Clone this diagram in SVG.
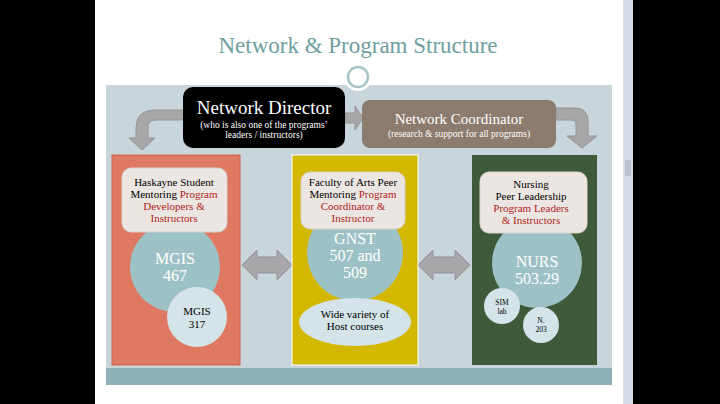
<svg xmlns="http://www.w3.org/2000/svg" width="720" height="404" viewBox="0 0 720 404">
<style>
.s{font-family:"Liberation Serif",serif}
.t{font-size:11px}
.lbl{fill:#ece6e2;stroke:#d8d0cb}
.red{fill:#b01c1c}
.ci{fill:#9dc2c5}
.sm{fill:#d5e4e8}
.arr{fill:#a7a7aa;stroke:#949494}
</style>
<rect width="720" height="404" fill="#000"/>
<rect x="95" y="0" width="528" height="404" fill="#fff"/>
<rect x="623" y="0" width="10" height="404" fill="#d6dde6"/>
<rect x="625" y="160" width="6" height="16" fill="#b9c3cf"/>
<text class="s" x="358" y="53" text-anchor="middle" font-size="23" fill="#6f9ea0">Network  &amp; Program Structure</text>
<rect x="106" y="85" width="506" height="300" fill="#c8d5db"/>
<rect x="106" y="368" width="506" height="17" fill="#8fb1b5"/>
<circle cx="358" cy="77" r="14" fill="#fff"/>
<circle cx="358" cy="77" r="10" fill="none" stroke="#a9c4c6" stroke-width="2.5"/>
<g id="connectors">
<path class="arr" d="M185 120 H155 Q148 120 148 128 V138 H155 L142 150 L129 138 H136 V128 Q136 110 155 110 H185Z"/>
<path class="arr" d="M345 113 H355 V106 L363 118 L355 130 V123 H345Z"/>
<path class="arr" d="M556 108 H575 Q588 108 588 122 V136 H597 L582 148 L567 136 H576 V124 Q576 120 570 120 H556Z"/>
<path class="arr" d="M242 265 L257 250 V257 H277 V250 L292 265 L277 280 V273 H257 V280Z"/>
<path class="arr" d="M418 265 L433 250 V257 H455 V250 L470 265 L455 280 V273 H433 V280Z"/>
</g>
<g id="director">
<rect x="183" y="87" width="162" height="61" rx="10" fill="#000"/>
<text class="s" x="264" y="114" text-anchor="middle" font-size="19" fill="#fff">Network Director</text>
<text class="s" x="264" y="128" text-anchor="middle" font-size="9.5" fill="#fff">(who is also one  of the programs’</text>
<text class="s" x="264" y="138" text-anchor="middle" font-size="9.5" fill="#fff">leaders / instructors)</text>
</g>
<g id="coordinator">
<rect x="362" y="100" width="194" height="48" rx="8" fill="#8c7b6f"/>
<text class="s" x="459" y="124" text-anchor="middle" font-size="15" fill="#fff">Network Coordinator</text>
<text class="s" x="459" y="137" text-anchor="middle" font-size="9.5" fill="#fff">(research &amp;  support  for all programs)</text>
</g>
<g id="haskayne">
<rect x="112" y="155" width="128" height="210" fill="#e07962" stroke="#c9654f"/>
<circle class="ci" cx="175" cy="267" r="45"/>
<text class="s" x="175" y="264" text-anchor="middle" font-size="16" fill="#fff">MGIS</text>
<text class="s" x="175" y="281" text-anchor="middle" font-size="16" fill="#fff">467</text>
<circle class="sm" cx="197" cy="317" r="30"/>
<text class="s t" x="197" y="315" text-anchor="middle">MGIS</text>
<text class="s t" x="197" y="328" text-anchor="middle">317</text>
<rect class="lbl" x="122" y="168" width="105" height="64" rx="9"/>
<text class="s t" x="174" y="186" text-anchor="middle">Haskayne Student</text>
<text class="s t" x="174" y="198" text-anchor="middle">Mentoring <tspan class="red">Program</tspan></text>
<text class="s t red" x="174" y="210" text-anchor="middle">Developers &amp;</text>
<text class="s t red" x="174" y="222" text-anchor="middle">Instructors</text>
</g>
<g id="arts">
<rect x="292" y="155" width="126" height="210" fill="#d4b800" stroke="#fff"/>
<circle class="ci" cx="355" cy="253" r="48"/>
<text class="s" x="355" y="244" text-anchor="middle" font-size="16" fill="#fff">GNST</text>
<text class="s" x="355" y="261" text-anchor="middle" font-size="16" fill="#fff">507 and</text>
<text class="s" x="355" y="278" text-anchor="middle" font-size="16" fill="#fff">509</text>
<ellipse class="sm" cx="355" cy="322" rx="56" ry="24"/>
<text class="s t" x="355" y="318" text-anchor="middle">Wide variety of</text>
<text class="s t" x="355" y="330" text-anchor="middle">Host courses</text>
<rect class="lbl" x="301" y="172" width="104" height="57" rx="9"/>
<text class="s t" x="353" y="186" text-anchor="middle">Faculty of Arts Peer</text>
<text class="s t" x="353" y="198" text-anchor="middle">Mentoring <tspan class="red">Program</tspan></text>
<text class="s t red" x="353" y="210" text-anchor="middle">Coordinator &amp;</text>
<text class="s t red" x="353" y="222" text-anchor="middle">Instructor</text>
</g>
<g id="nursing">
<rect x="472" y="155" width="125" height="210" fill="#3e5a3b"/>
<circle class="ci" cx="537" cy="263" r="45"/>
<text class="s" x="537" y="267" text-anchor="middle" font-size="16" fill="#fff">NURS</text>
<text class="s" x="537" y="284" text-anchor="middle" font-size="16" fill="#fff">503.29</text>
<circle class="sm" cx="502" cy="306" r="18"/>
<text class="s" x="502" y="305" text-anchor="middle" font-size="7.5">SIM</text>
<text class="s" x="502" y="314" text-anchor="middle" font-size="7.5">lab</text>
<circle class="sm" cx="541" cy="325" r="18"/>
<text class="s" x="541" y="323" text-anchor="middle" font-size="7.5">N.</text>
<text class="s" x="541" y="332" text-anchor="middle" font-size="7.5">203</text>
<rect class="lbl" x="480" y="172" width="107" height="61" rx="9"/>
<text class="s t" x="531" y="188" text-anchor="middle">Nursing</text>
<text class="s t" x="531" y="200" text-anchor="middle">Peer Leadership</text>
<text class="s t red" x="531" y="212" text-anchor="middle">Program Leaders</text>
<text class="s t red" x="531" y="224" text-anchor="middle">&amp; Instructors</text>
</g>
</svg>
